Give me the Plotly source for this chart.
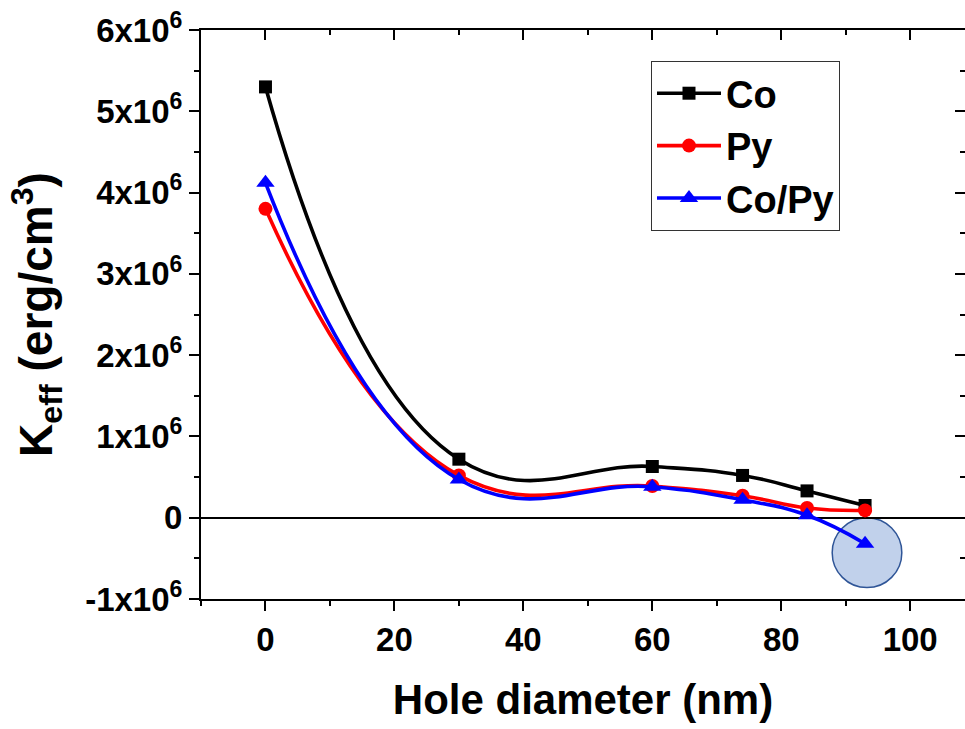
import plotly.graph_objects as go

diam = [0, 30, 60, 74, 84, 93]
k_co = [5.30e6, 0.72e6, 0.63e6, 0.52e6, 0.33e6, 0.15e6]
k_py = [3.80e6, 0.52e6, 0.39e6, 0.27e6, 0.12e6, 0.09e6]
k_copy = [4.12e6, 0.47e6, 0.38e6, 0.22e6, 0.03e6, -0.32e6]

ytick_vals = [-1e6, 0, 1e6, 2e6, 3e6, 4e6, 5e6, 6e6]
ytick_text = ["-1x10<sup>6</sup>", "0", "1x10<sup>6</sup>", "2x10<sup>6</sup>",
              "3x10<sup>6</sup>", "4x10<sup>6</sup>", "5x10<sup>6</sup>", "6x10<sup>6</sup>"]
xtick_vals = [0, 20, 40, 60, 80, 100]

FONT = "Liberation Sans, Arial, sans-serif"

fig = go.Figure()
series = [
    ("Co", k_co, "black", "square", 13),
    ("Py", k_py, "red", "circle", 14),
    ("Co/Py", k_copy, "blue", "triangle-up", 16),
]
for name, ys, col, sym, sz in series:
    fig.add_trace(go.Scatter(
        x=diam, y=ys, name=name, mode="lines+markers",
        line=dict(color=col, width=3.6, shape="spline", smoothing=1.3),
        marker=dict(color=col, symbol=sym, size=sz),
    ))

# highlight circle around last Co/Py point
fig.add_shape(type="circle", xref="x", yref="y",
              x0=93.3 - 5.4, x1=93.3 + 5.4, y0=-0.43e6 - 0.43e6, y1=-0.43e6 + 0.43e6,
              fillcolor="rgba(160,185,225,0.65)", line=dict(color="#2f5597", width=1.5),
              layer="below")

axis_common = dict(showline=True, linecolor="black", linewidth=2,
                   showgrid=False, tickcolor="black", tickwidth=2)

fig.update_layout(
    width=965, height=729,
    margin=dict(l=201, r=0, t=30, b=130),
    paper_bgcolor="white", plot_bgcolor="white",
    font=dict(family=FONT, color="black"),
    showlegend=True,
    legend=dict(x=0.589, y=0.9455, xanchor="left", yanchor="top",
                bordercolor="#333333", borderwidth=1, bgcolor="white",
                font=dict(size=38, family=FONT, weight="bold"),
                itemwidth=64, tracegroupgap=0),
    xaxis=dict(range=[-10, 108.5], tickvals=xtick_vals, ticks="outside", ticklen=10,
               tickfont=dict(size=33, family=FONT, weight="bold"),
               minor=dict(dtick=10, tick0=0, ticks="outside", ticklen=5, tickcolor="black", tickwidth=2),
               title=dict(text="Hole diameter (nm)", font=dict(size=42, family=FONT, weight="bold"), standoff=28),
               zeroline=False, **axis_common),
    yaxis=dict(range=[-1e6, 6e6], tickvals=ytick_vals, ticktext=ytick_text, ticks="outside", ticklen=10,
               tickfont=dict(size=33, family=FONT, weight="bold"),
               minor=dict(dtick=0.5e6, tick0=0, ticks="outside", ticklen=5, tickcolor="black", tickwidth=2),
               title=dict(text="K<sub>eff</sub> (erg/cm<sup>3</sup>)", font=dict(size=46, family=FONT, weight="bold"), standoff=18),
               zeroline=True, zerolinecolor="black", zerolinewidth=2, **axis_common),
    xaxis2=dict(overlaying="x", side="top", range=[-10, 108.5], tickvals=xtick_vals, ticks="inside",
                ticklen=10, showticklabels=False, matches="x",
                minor=dict(dtick=10, tick0=0, ticks="inside", ticklen=5, tickcolor="black", tickwidth=2),
                zeroline=False, **axis_common),
    yaxis2=dict(overlaying="y", side="right", range=[-1e6, 6e6], tickvals=ytick_vals, ticks="inside",
                ticklen=10, showticklabels=False,
                minor=dict(dtick=0.5e6, tick0=0, ticks="inside", ticklen=5, tickcolor="black", tickwidth=2),
                zeroline=False, **axis_common),
)

# invisible trace to anchor the mirrored axes
fig.add_trace(go.Scatter(x=[diam[0]], y=[k_co[0]], xaxis="x2", yaxis="y2", mode="markers",
                         marker=dict(opacity=0), showlegend=False, hoverinfo="skip"))

fig.write_html("out.html")
